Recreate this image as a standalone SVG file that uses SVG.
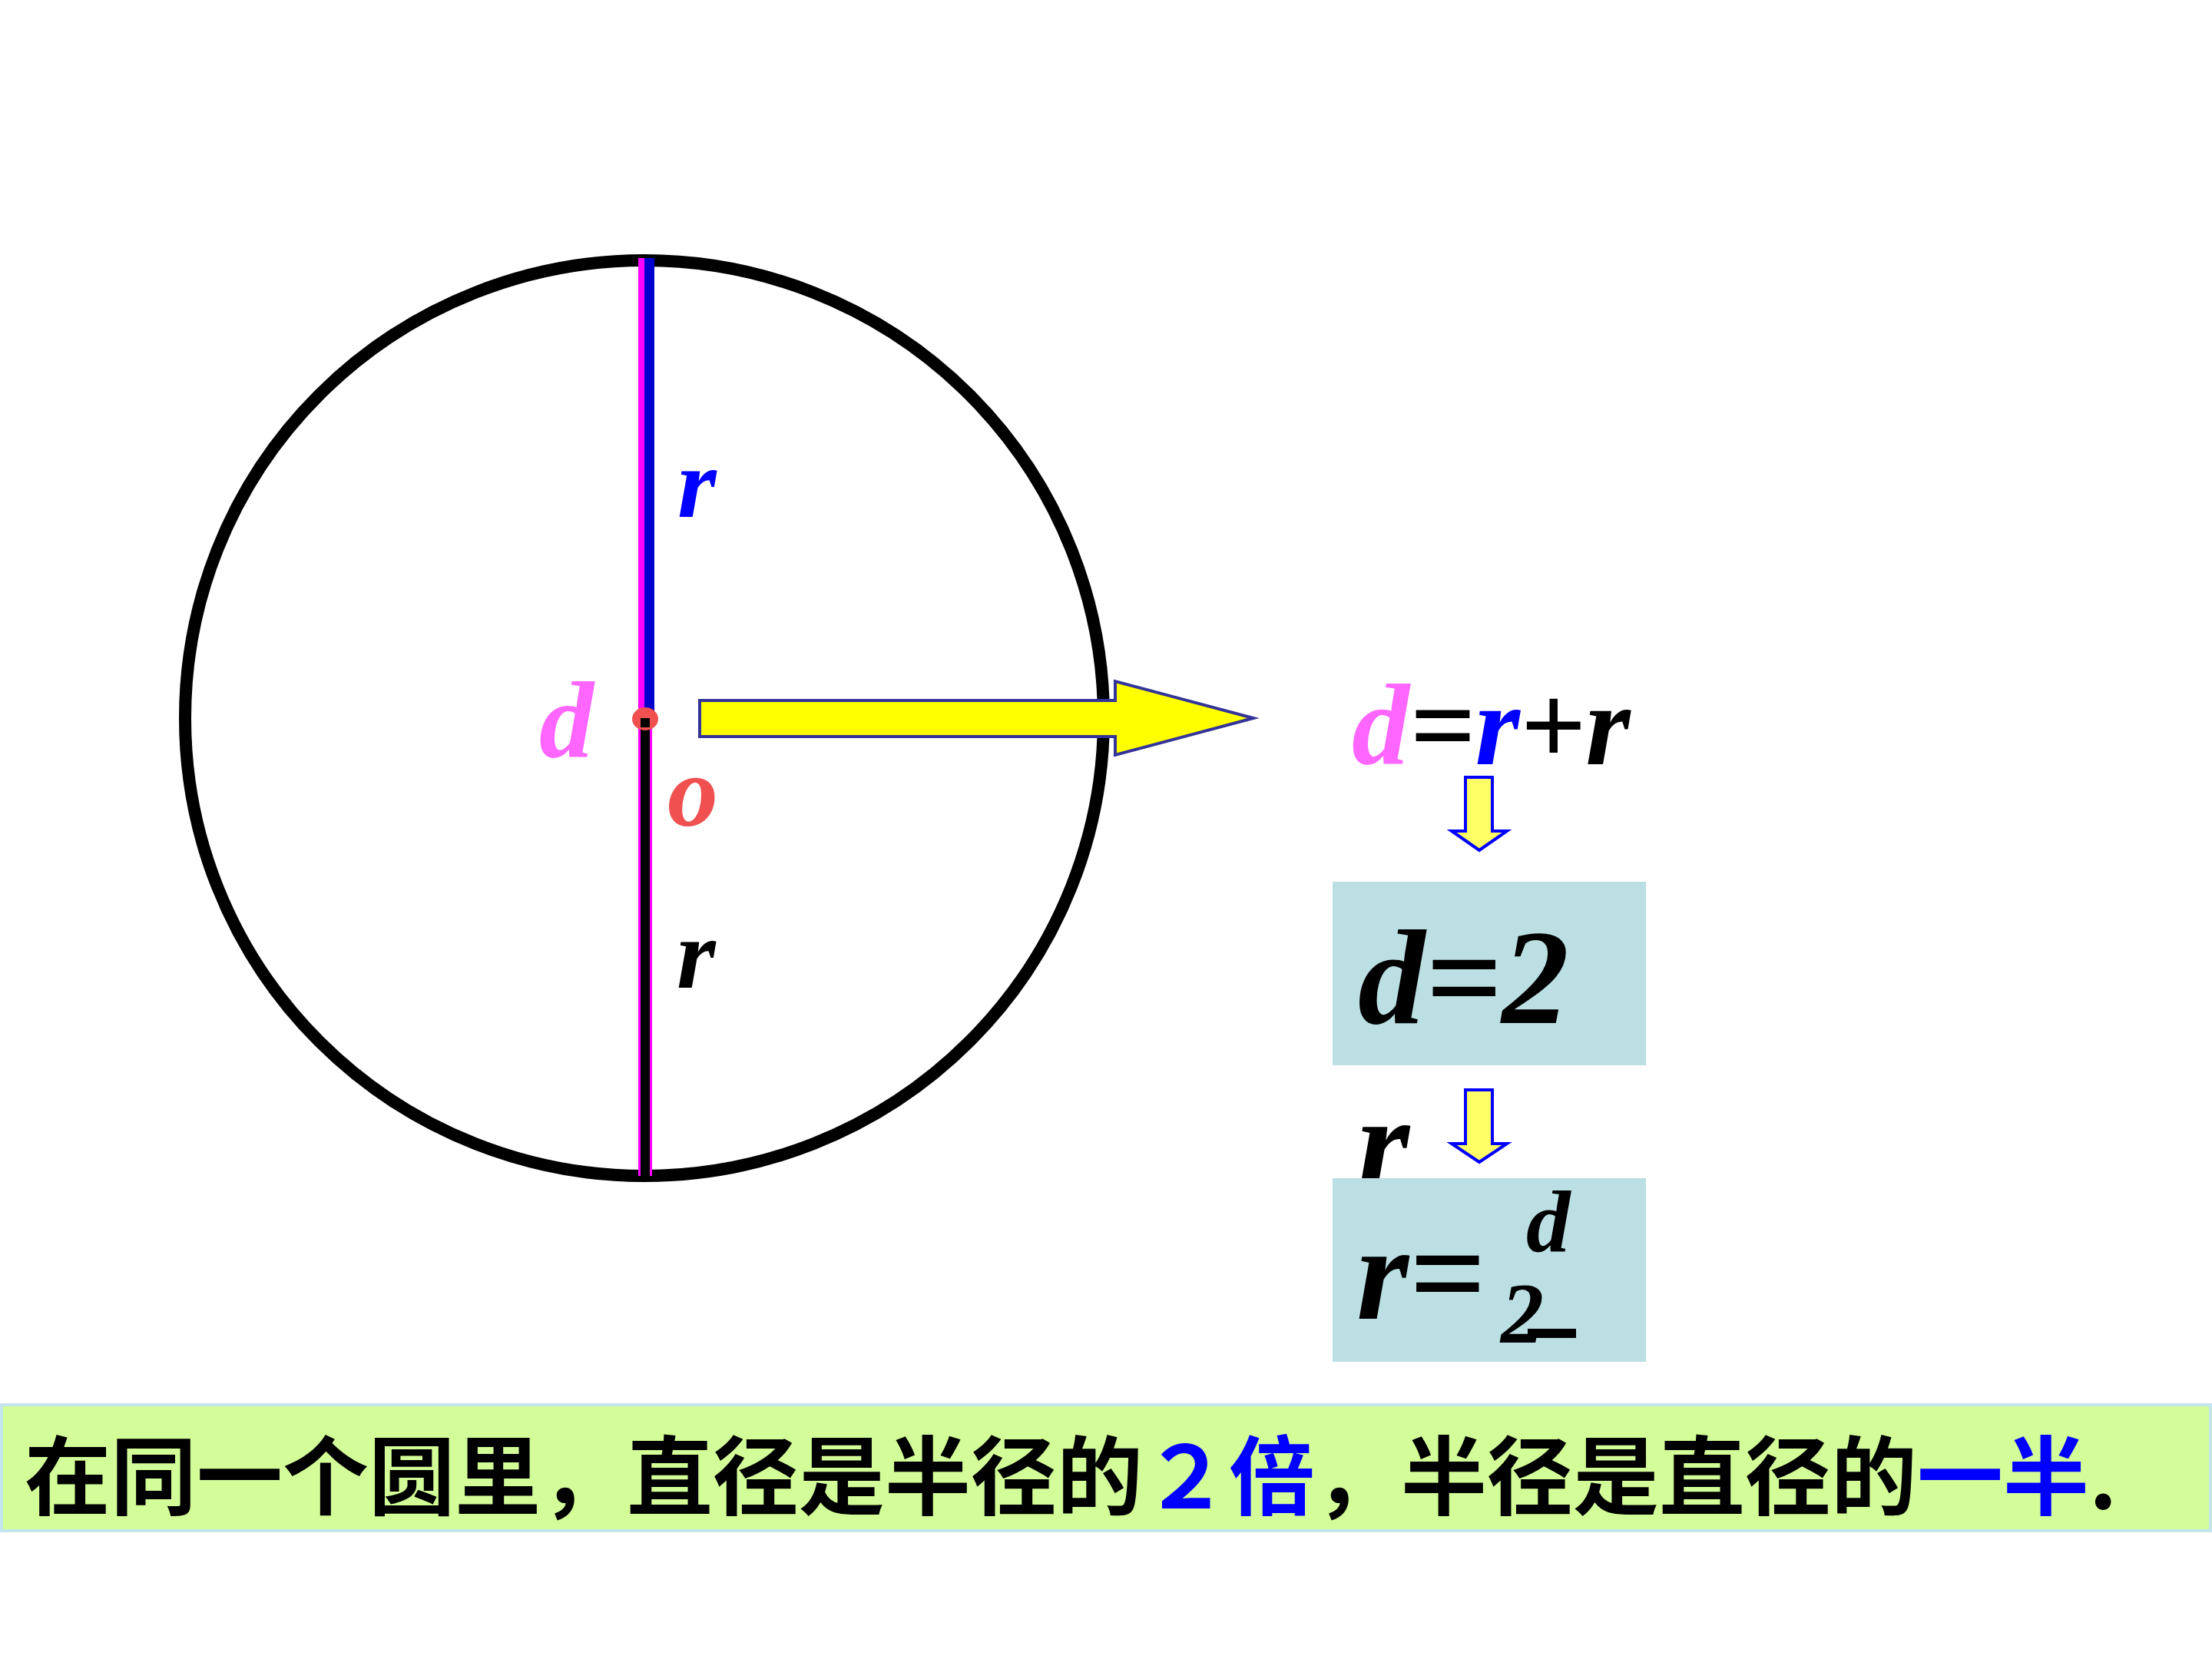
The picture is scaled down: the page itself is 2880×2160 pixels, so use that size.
<svg xmlns="http://www.w3.org/2000/svg" width="2880" height="2160" viewBox="0 0 2880 2160">
<style>
.m{font-family:"Liberation Serif","Times New Roman",serif;font-weight:bold;font-style:italic}
.cjk{font-family:"Noto Sans CJK SC","Noto Sans CJK TC",sans-serif;font-weight:bold;font-size:112px}
.box{fill:#bbdfe3}
.darr{fill:#ffff66;stroke:#0000ff;stroke-width:4;stroke-linejoin:miter}
</style>
<rect width="2880" height="2160" fill="#ffffff"/>
<g id="circle">
<ellipse cx="839" cy="935" rx="598" ry="596" fill="none" stroke="#000" stroke-width="16"/>
<rect x="831" y="336" width="8" height="599" fill="#ff00ff"/>
<rect x="839" y="336" width="13" height="599" fill="#0000cc"/>
<rect x="831" y="935" width="18" height="596" fill="#ff00ff"/>
<rect x="834" y="935" width="12" height="596" fill="#000"/>
<ellipse cx="840" cy="936" rx="17" ry="15" fill="#f05050"/>
<rect x="834" y="935" width="12" height="12" fill="#000"/>
</g>
<g id="labels">
<text class="m" x="702" y="986" font-size="142" fill="#ff66ff">d</text>
<text class="m" x="882" y="673" font-size="130" fill="#0000ff">r</text>
<text class="m" x="869" y="1075" font-size="132" fill="#f05050">o</text>
<text class="m" x="881" y="1286" font-size="130" fill="#000">r</text>
</g>
<g id="connectors">
<polygon points="911,912 1452,912 1452,887 1632,935 1452,983 1452,959 911,959" fill="#ffff00" stroke="#333399" stroke-width="4"/>
<polygon class="darr" points="1908,1012 1943,1012 1943,1082 1962,1082 1926,1107 1890,1082 1908,1082"/>
<polygon class="darr" points="1908,1419 1943,1419 1943,1489 1962,1489 1926,1513 1890,1489 1908,1489"/>
</g>
<g id="eq1">
<text class="m" x="1760" y="995" font-size="150"><tspan fill="#ff66ff">d</tspan><tspan fill="#000">=</tspan><tspan fill="#0000ff">r</tspan><tspan fill="#000">+r</tspan></text>
</g>
<g id="eq2">
<rect class="box" x="1735" y="1148" width="408" height="239"/>
<text class="m" x="1768" y="1332" font-size="175" fill="#000">d=2</text>
</g>
<g id="r-label">
<text class="m" x="1767" y="1548" font-size="175" fill="#000">r</text>
</g>
<g id="eq3">
<rect class="box" x="1735" y="1534" width="408" height="239"/>
<text class="m" x="1766" y="1717" font-size="175" fill="#000">r=</text>
<text class="m" x="1987" y="1630" font-size="115" fill="#000">d</text>
<text class="m" x="1954" y="1748" font-size="112" fill="#000">2</text>
<rect x="1989" y="1730" width="63" height="12" fill="#000"/>
</g>
<g id="banner">
<rect x="2" y="1829" width="2876" height="164" fill="#d3fd99" stroke="#c5e5ee" stroke-width="4"/>
<text class="cjk" x="32" y="1964" fill="#000">在同一个圆里，直径是半径的<tspan fill="#0000ff">２倍</tspan>，半径是直径的<tspan fill="#0000ff">一半</tspan>.</text>
</g>
</svg>
